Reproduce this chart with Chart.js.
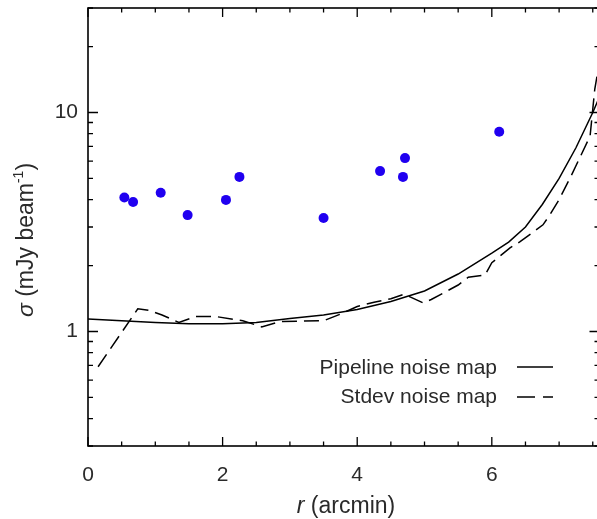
<!DOCTYPE html>
<html>
<head>
<meta charset="utf-8">
<script src="https://cdn.jsdelivr.net/npm/chart.js@4.4.1/dist/chart.umd.min.js"></script>
<style>
  html, body { margin: 0; padding: 0; overflow: hidden; background: #fff; }
  #wrap { width: 600px; height: 519px; }
</style>
</head>
<body>
<div id="wrap"><canvas id="chart" width="600" height="519"></canvas></div>
<script>
// source positions: radius (arcmin) and noise (mJy/beam)
const sourceR     = [0.54, 0.67, 1.08, 1.48, 2.05, 2.25, 3.50, 4.34, 4.68, 4.71, 6.11];
const sourceSigma = [4.09, 3.90, 4.30, 3.40, 3.99, 5.08, 3.30, 5.40, 5.08, 6.19, 8.16];

// pipeline noise map profile
const pipelineR     = [0, 0.5, 1.0, 1.5, 2.0, 2.5, 3.0, 3.5, 4.0, 4.5, 5.0, 5.5, 6.0, 6.25, 6.5, 6.75, 7.0, 7.25, 7.5, 7.6];
const pipelineSigma = [1.14, 1.12, 1.10, 1.085, 1.085, 1.10, 1.145, 1.19, 1.26, 1.37, 1.53, 1.83, 2.28, 2.56, 3.0, 3.8, 5.0, 6.9, 10.0, 11.8];

// stdev noise map profile
const stdevR     = [0.15, 0.74, 0.9, 1.1, 1.35, 1.6, 1.9, 2.3, 2.58, 2.85, 3.5, 3.75, 4.0, 4.25, 4.5, 4.7, 4.98, 5.1, 5.5, 5.65, 5.9, 6.0, 6.27, 6.42, 6.76, 6.86, 7.0, 7.2, 7.46, 7.53, 7.6];
const stdevSigma = [0.69, 1.27, 1.25, 1.19, 1.10, 1.17, 1.17, 1.12, 1.05, 1.11, 1.12, 1.20, 1.30, 1.36, 1.41, 1.48, 1.35, 1.40, 1.63, 1.77, 1.81, 2.06, 2.41, 2.57, 3.07, 3.40, 4.0, 5.3, 7.8, 12.8, 17.0];

// axes
const xLabels = [0, 2, 4, 6];
const xTicks  = [0, 0.5, 1, 1.5, 2, 2.5, 3, 3.5, 4, 4.5, 5, 5.5, 6, 6.5, 7, 7.5];
const yLabels = [1, 10];
const yTicks  = [0.3, 0.4, 0.5, 0.6, 0.7, 0.8, 0.9, 1, 2, 3, 4, 5, 6, 7, 8, 9, 10, 20, 30];

const FONT = '"Liberation Sans", Arial, Helvetica, sans-serif';
const TEXT = '#2a2a2a';

function pts(xs, ys) {
  return xs.map((x, i) => ({ x: x, y: ys[i] }));
}

function drawParts(ctx, parts, x, y, align) {
  let w = 0;
  parts.forEach(p => { ctx.font = p.font; w += ctx.measureText(p.t).width; });
  let cx = align === 'center' ? x - w / 2 : x;
  parts.forEach(p => {
    ctx.font = p.font;
    ctx.fillText(p.t, cx, y - (p.rise || 0));
    cx += ctx.measureText(p.t).width;
  });
}

// no extra room for tick labels at the ends of the axes
function noPad(s) {
  s.paddingTop = 0; s.paddingBottom = 0; s.paddingLeft = 0; s.paddingRight = 0;
}

const framePlugin = {
  id: 'frame',
  afterDraw(chart) {
    const { ctx, chartArea: a, scales: { x, y } } = chart;
    ctx.save();
    ctx.strokeStyle = '#000';
    ctx.lineWidth = 1.6;
    ctx.strokeRect(a.left, a.top, a.right - a.left, a.bottom - a.top);

    ctx.lineWidth = 1.3;
    ctx.beginPath();
    xTicks.forEach(v => {
      const px = x.getPixelForValue(v);
      const len = xLabels.includes(v) ? 9 : 4.5;
      ctx.moveTo(px, a.bottom); ctx.lineTo(px, a.bottom - len);
      ctx.moveTo(px, a.top);    ctx.lineTo(px, a.top + len);
    });
    yTicks.forEach(v => {
      const py = y.getPixelForValue(v);
      const len = yLabels.includes(v) ? 10 : 5;
      ctx.moveTo(a.left, py);  ctx.lineTo(a.left + len, py);
      ctx.moveTo(a.right, py); ctx.lineTo(a.right - len, py);
    });
    ctx.stroke();

    // axis titles
    ctx.fillStyle = TEXT;
    ctx.textBaseline = 'alphabetic';
    const reg = '23px ' + FONT, ita = 'italic 23px ' + FONT, sup = '14px ' + FONT;
    drawParts(ctx, [{ t: 'r', font: ita }, { t: ' (arcmin)', font: reg }], 346, 513, 'center');

    ctx.save();
    ctx.translate(33, 240);
    ctx.rotate(-Math.PI / 2);
    drawParts(ctx, [
      { t: 'σ', font: ita },
      { t: ' (mJy beam', font: reg },
      { t: '-1', font: sup, rise: 10 },
      { t: ')', font: reg }
    ], 0, 0, 'center');
    ctx.restore();

    // legend
    ctx.font = '21px ' + FONT;
    ctx.textAlign = 'right';
    ctx.textBaseline = 'middle';
    ctx.fillText('Pipeline noise map', 497, 368);
    ctx.fillText('Stdev noise map', 497, 397);
    ctx.lineWidth = 1.5;
    ctx.beginPath();
    ctx.moveTo(517, 367); ctx.lineTo(553, 367);
    ctx.stroke();
    ctx.setLineDash([18, 8]);
    ctx.beginPath();
    ctx.moveTo(517, 397); ctx.lineTo(553, 397);
    ctx.stroke();
    ctx.restore();
  }
};

new Chart(document.getElementById('chart').getContext('2d'), {
  type: 'scatter',
  data: {
    datasets: [
      {
        label: 'Pipeline noise map',
        data: pts(pipelineR, pipelineSigma),
        showLine: true, pointRadius: 0, borderColor: '#000', borderWidth: 1.5, tension: 0
      },
      {
        label: 'Stdev noise map',
        data: pts(stdevR, stdevSigma),
        showLine: true, pointRadius: 0, borderColor: '#000', borderWidth: 1.5, tension: 0,
        borderDash: [15, 7]
      },
      {
        label: 'Sources',
        data: pts(sourceR, sourceSigma),
        pointRadius: 5, pointBackgroundColor: '#2000f0', pointBorderWidth: 0
      }
    ]
  },
  options: {
    responsive: false,
    animation: false,
    layout: { autoPadding: false, padding: { top: 8, right: 0.5, left: 0, bottom: 0 } },
    plugins: { legend: { display: false }, tooltip: { enabled: false } },
    scales: {
      x: {
        type: 'linear', min: 0, max: 7.6,
        grid: { display: false, drawTicks: false }, border: { display: false },
        afterBuildTicks: s => { s.ticks = xTicks.map(v => ({ value: v })); },
        afterFit: s => { s.height = 73; noPad(s); },
        ticks: {
          autoSkip: false, maxRotation: 0, padding: 17, color: TEXT,
          font: { family: FONT, size: 21 },
          callback: v => xLabels.includes(v) ? String(v) : ''
        }
      },
      y: {
        type: 'logarithmic', min: 0.3, max: 30,
        grid: { display: false, drawTicks: false }, border: { display: false },
        afterBuildTicks: s => { s.ticks = yTicks.map(v => ({ value: v })); },
        afterFit: s => { s.width = 88; noPad(s); },
        ticks: {
          autoSkip: false, padding: 10, color: TEXT,
          font: { family: FONT, size: 21 },
          callback: v => yLabels.includes(v) ? String(v) : ''
        }
      }
    }
  },
  plugins: [framePlugin]
});
</script>
</body>
</html>
